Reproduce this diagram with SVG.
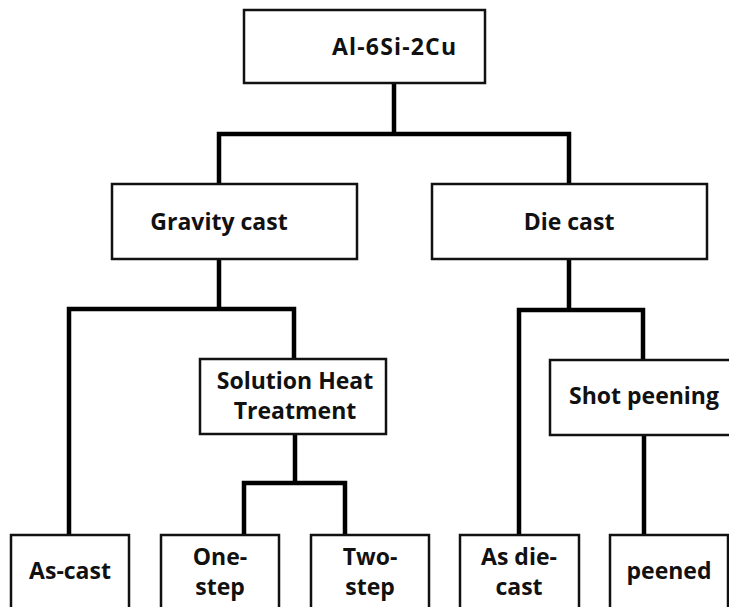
<svg xmlns="http://www.w3.org/2000/svg" width="729" height="607" viewBox="0 0 729 607">
<style>
.box{fill:#fff;stroke:#111;stroke-width:2.5}
.lbl{font-family:"Open Sans","Noto Sans","Liberation Sans",sans-serif;font-weight:bold;font-size:23px;fill:#111;text-anchor:middle}
.con{fill:none;stroke:#000;stroke-width:4.5;stroke-linejoin:miter;stroke-linecap:butt}
</style>
<rect width="729" height="607" fill="#fff"/>
<g id="connectors">
<path class="con" d="M394,83 V134 M219,184 V134 H569 V184"/>
<path class="con" d="M219,259 V309 M69,535 V309 H294 V358"/>
<path class="con" d="M295,434 V483 M244,535 V483 H345 V535"/>
<path class="con" d="M569,259 V310 M519,535 V310 H643 V360"/>
<path class="con" d="M644,435 V535"/>
</g>
<g id="n-alloy"><rect class="box" x="244" y="10" width="241" height="73"/><text class="lbl" x="394" y="55" textLength="124">Al-6Si-2Cu</text></g>
<g id="n-gravity"><rect class="box" x="112" y="184" width="245" height="75"/><text class="lbl" x="219" y="230">Gravity cast</text></g>
<g id="n-die"><rect class="box" x="432" y="184" width="275" height="75"/><text class="lbl" x="569" y="230">Die cast</text></g>
<g id="n-solution"><rect class="box" x="200" y="359" width="186" height="75"/><text class="lbl" x="295" y="389">Solution Heat</text><text class="lbl" x="295" y="419">Treatment</text></g>
<g id="n-shot"><rect class="box" x="550" y="360" width="190" height="75"/><text class="lbl" x="644" y="404">Shot peening</text></g>
<g id="n-ascast"><rect class="box" x="11" y="535" width="118" height="90"/><text class="lbl" x="70" y="579">As-cast</text></g>
<g id="n-onestep"><rect class="box" x="161" y="535" width="118" height="90"/><text class="lbl" x="220" y="565">One-</text><text class="lbl" x="220" y="595">step</text></g>
<g id="n-twostep"><rect class="box" x="311" y="535" width="118" height="90"/><text class="lbl" x="370" y="565">Two-</text><text class="lbl" x="370" y="595">step</text></g>
<g id="n-asdiecast"><rect class="box" x="460" y="535" width="119" height="90"/><text class="lbl" x="519" y="565">As die-</text><text class="lbl" x="519" y="595">cast</text></g>
<g id="n-peened"><rect class="box" x="610" y="535" width="118" height="90"/><text class="lbl" x="669" y="579">peened</text></g>
</svg>
